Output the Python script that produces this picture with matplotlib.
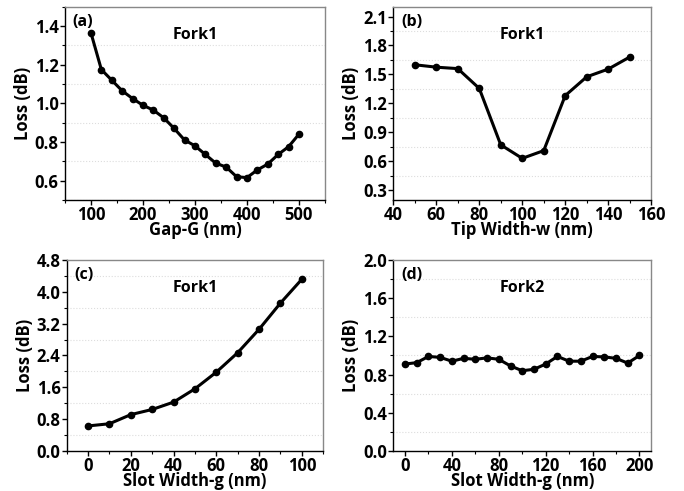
import matplotlib
matplotlib.use('Agg')
import matplotlib.pyplot as plt
from matplotlib.ticker import MultipleLocator

plt.rcParams['font.family'] = ['Open Sans', 'DejaVu Sans']
plt.rcParams['font.weight'] = 'bold'

# (a) Gap-G sweep
gap_G = [100, 120, 140, 160, 180, 200, 220, 240, 260, 280, 300,
         320, 340, 360, 380, 400, 420, 440, 460, 480, 500]
loss_a = [1.365, 1.175, 1.12, 1.065, 1.025, 0.99, 0.965, 0.925, 0.87, 0.81, 0.78,
          0.735, 0.69, 0.67, 0.62, 0.615, 0.655, 0.685, 0.735, 0.775, 0.84]

# (b) Tip width sweep
tip_w = [50, 60, 70, 80, 90, 100, 110, 120, 130, 140, 150]
loss_b = [1.60, 1.575, 1.56, 1.355, 0.77, 0.63, 0.71, 1.28, 1.475, 1.555, 1.68]

# (c) Slot width sweep, Fork1
slot_c = [0, 10, 20, 30, 40, 50, 60, 70, 80, 90, 100]
loss_c = [0.625, 0.68, 0.91, 1.04, 1.225, 1.56, 1.98, 2.47, 3.06, 3.72, 4.32]

# (d) Slot width sweep, Fork2
slot_d = [0, 10, 20, 30, 40, 50, 60, 70, 80, 90, 100,
          110, 120, 130, 140, 150, 160, 170, 180, 190, 200]
loss_d = [0.91, 0.925, 0.99, 0.98, 0.94, 0.97, 0.96, 0.975, 0.96, 0.89, 0.84,
          0.855, 0.91, 0.99, 0.94, 0.94, 0.99, 0.985, 0.97, 0.92, 1.0]

panels = [
    dict(x=gap_G, y=loss_a, tag='(a)', name='Fork1', xlabel='Gap-G (nm)',
         xlim=(50, 550), ylim=(0.5, 1.5), xmaj=100, ymaj=0.2,
         rect=[0.095, 0.593, 0.380, 0.393]),
    dict(x=tip_w, y=loss_b, tag='(b)', name='Fork1', xlabel='Tip Width-w (nm)',
         xlim=(40, 160), ylim=(0.2, 2.2), xmaj=20, ymaj=0.3,
         rect=[0.575, 0.593, 0.377, 0.393]),
    dict(x=slot_c, y=loss_c, tag='(c)', name='Fork1', xlabel='Slot Width-g (nm)',
         xlim=(-10, 110), ylim=(0.0, 4.8), xmaj=20, ymaj=0.8,
         rect=[0.0975, 0.082, 0.375, 0.388]),
    dict(x=slot_d, y=loss_d, tag='(d)', name='Fork2', xlabel='Slot Width-g (nm)',
         xlim=(-10, 210), ylim=(0.0, 2.0), xmaj=40, ymaj=0.4,
         rect=[0.575, 0.082, 0.377, 0.388]),
]

fig = plt.figure(figsize=(6.84, 4.91), dpi=100)

for p in panels:
    ax = fig.add_axes(p['rect'])
    ax.plot(p['x'], p['y'], color='black', lw=2.2, marker='o', ms=4.5)
    ax.set_xlim(*p['xlim'])
    ax.set_ylim(*p['ylim'])
    ax.xaxis.set_major_locator(MultipleLocator(p['xmaj']))
    ax.xaxis.set_minor_locator(MultipleLocator(p['xmaj'] / 2))
    ax.yaxis.set_major_locator(MultipleLocator(p['ymaj']))
    ax.yaxis.set_minor_locator(MultipleLocator(p['ymaj'] / 2))
    ax.grid(which='minor', axis='y', color='#dddddd', ls=':', lw=0.8)
    ax.tick_params(which='major', direction='out', length=3.5, width=1, labelsize=12, pad=1)
    ax.tick_params(which='minor', direction='out', length=2.2, width=0.8)
    ax.tick_params(top=False, right=False, which='both')
    for s in ['top', 'right']:
        ax.spines[s].set_color('#888888')
    for s in ['left', 'bottom']:
        ax.spines[s].set_color('black')
    for s in ax.spines.values():
        s.set_linewidth(1.0)
    for lab in ax.get_xticklabels() + ax.get_yticklabels():
        lab.set_fontweight('bold')
    ax.set_xlabel(p['xlabel'], fontsize=12, fontweight='bold', labelpad=-2.5)
    ax.set_ylabel('Loss (dB)', fontsize=12, fontweight='bold', labelpad=2)
    ax.text(0.03, 0.92, p['tag'], transform=ax.transAxes, fontsize=11.5,
            fontweight='bold', va='center', ha='left')
    ax.text(0.5, 0.855, p['name'], transform=ax.transAxes, fontsize=11.5,
            fontweight='bold', va='center', ha='center')

fig.savefig('out.png', dpi=100)
